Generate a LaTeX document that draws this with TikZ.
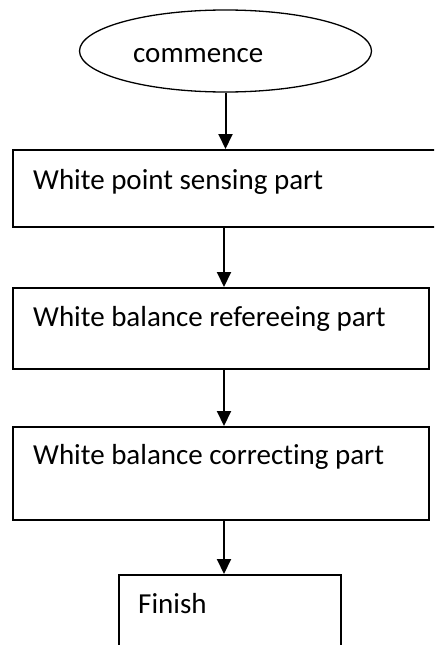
\documentclass[tikz,border=0pt]{standalone}
\usepackage{fontspec}
\setmainfont[Ligatures=NoCommon]{Carlito}
\usetikzlibrary{shapes.geometric,arrows.meta}
\tikzset{
  boxshape/.style={draw=black,line width=1.5pt,fill=white,rectangle,inner sep=0pt,anchor=north west},
  lbl/.style={anchor=base west,inner sep=0pt,font=\fontsize{29}{32}\selectfont},
  flow/.style={line width=2pt,-{Triangle[length=15pt,width=14pt]}}
}
\begin{document}
\begin{tikzpicture}[x=1pt,y=-1pt]
\useasboundingbox (0,0) rectangle (434,645);
\clip (0,0) rectangle (434,645);
\fill[white] (0,0) rectangle (434,645);
\node[ellipse,draw=black,line width=1.3pt,minimum width=292pt,minimum height=82pt,inner sep=0pt] (start) at (225.5,51) {};
\node[lbl] (t0) at (133,62) {commence};
\node[boxshape,minimum width=440pt,minimum height=77pt] (b1) at (12,149) {};
\node[lbl] (t1) at (33,189) {White point sensing part};
\node[boxshape,minimum width=416pt,minimum height=81pt] (b2) at (12,287) {};
\node[lbl] (t2) at (33,326) {White balance refereeing part};
\node[boxshape,minimum width=416pt,minimum height=93pt] (b3) at (12,426) {};
\node[lbl] (t3) at (33,464) {White balance correcting part};
\node[boxshape,minimum width=222pt,minimum height=90pt] (b4) at (118,574) {};
\node[lbl] (t4) at (138,613) {Finish};
\coordinate (ax) at (224,0);
\draw[flow] (start.south) -- (start.south |- b1.north);
\draw[flow] (b1.south -| ax) -- (b2.north -| ax);
\draw[flow] (b2.south -| ax) -- (b3.north -| ax);
\draw[flow] (b3.south -| ax) -- (b4.north -| ax);
\end{tikzpicture}
\end{document}
